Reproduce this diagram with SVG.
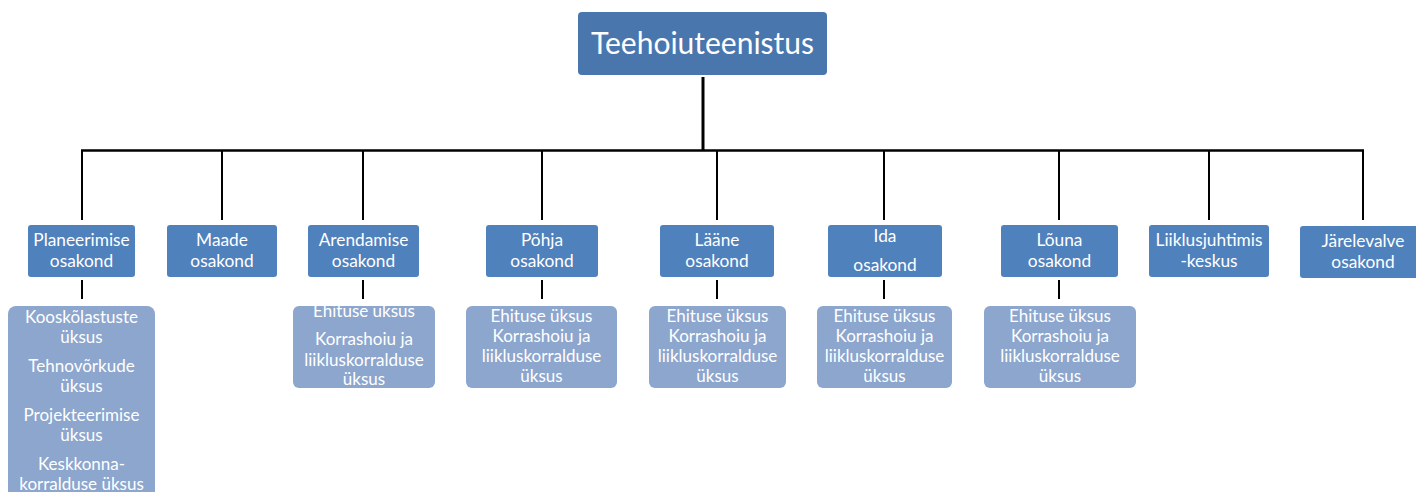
<svg xmlns="http://www.w3.org/2000/svg" width="1416" height="492" viewBox="0 0 1416 492">
<style>
.top{fill:#4A76AE}
.l2{fill:#4F81BD}
.sub{fill:#8CA6CE}
text{font-family:Lato,"Open Sans","Liberation Sans",sans-serif;fill:#fff;text-anchor:middle}
.t1{font-size:30px}
.t2{font-size:17.3px}
.t3{font-size:17px}
.conn line{stroke:#000;stroke-width:2}
</style>
<rect width="1416" height="492" fill="#fff"/>
<g class="conn">
<line x1="703" y1="77" x2="703" y2="151" style="stroke-width:3"/>
<line x1="81" y1="150.5" x2="1364" y2="150.5" style="stroke-width:2.5"/>
<line x1="82" y1="150" x2="82" y2="220"/>
<line x1="222" y1="150" x2="222" y2="220"/>
<line x1="363" y1="150" x2="363" y2="220"/>
<line x1="542" y1="150" x2="542" y2="220"/>
<line x1="717" y1="150" x2="717" y2="220"/>
<line x1="884" y1="150" x2="884" y2="220"/>
<line x1="1059" y1="150" x2="1059" y2="220"/>
<line x1="1209" y1="150" x2="1209" y2="220"/>
<line x1="1363" y1="150" x2="1363" y2="220"/>
<line x1="82" y1="280" x2="82" y2="299"/>
<line x1="363" y1="280" x2="363" y2="299"/>
<line x1="542" y1="280" x2="542" y2="299"/>
<line x1="717" y1="280" x2="717" y2="299"/>
<line x1="884" y1="280" x2="884" y2="299"/>
<line x1="1059" y1="280" x2="1059" y2="299"/>
</g>
<g id="teehoiuteenistus">
<rect class="top" x="578" y="12" width="249" height="63" rx="4"/>
<text class="t1" x="702.5" y="54">Teehoiuteenistus</text>
</g>
<g id="planeerimise">
<rect class="l2" x="28" y="225" width="107" height="52" rx="3"/>
<text class="t2" x="81.5" y="246">Planeerimise</text>
<text class="t2" x="81.5" y="267">osakond</text>
</g>
<g id="maade">
<rect class="l2" x="167" y="225" width="110" height="52" rx="3"/>
<text class="t2" x="222" y="246">Maade</text>
<text class="t2" x="222" y="267">osakond</text>
</g>
<g id="arendamise">
<rect class="l2" x="308" y="225" width="111" height="52" rx="3"/>
<text class="t2" x="363.5" y="246">Arendamise</text>
<text class="t2" x="363.5" y="267">osakond</text>
</g>
<g id="pohja">
<rect class="l2" x="486" y="225" width="112" height="52" rx="3"/>
<text class="t2" x="542" y="246">Põhja</text>
<text class="t2" x="542" y="267">osakond</text>
</g>
<g id="laane">
<rect class="l2" x="660" y="225" width="114" height="52" rx="3"/>
<text class="t2" x="717" y="246">Lääne</text>
<text class="t2" x="717" y="267">osakond</text>
</g>
<g id="ida">
<rect class="l2" x="828" y="225" width="114" height="52" rx="3"/>
<text class="t2" x="885" y="242">Ida</text>
<text class="t2" x="885" y="271">osakond</text>
</g>
<g id="louna">
<rect class="l2" x="1001" y="225" width="117" height="52" rx="3"/>
<text class="t2" x="1059.5" y="246">Lõuna</text>
<text class="t2" x="1059.5" y="267">osakond</text>
</g>
<g id="liiklusjuhtimiskeskus">
<rect class="l2" x="1149" y="225" width="120" height="52" rx="3"/>
<text class="t2" x="1209" y="246">Liiklusjuhtimis</text>
<text class="t2" x="1209" y="267">-keskus</text>
</g>
<g id="jarelevalve">
<rect class="l2" x="1300" y="226" width="120" height="52" rx="3"/>
<text class="t2" x="1363" y="247">Järelevalve</text>
<text class="t2" x="1363" y="268">osakond</text>
</g>
<g id="planeerimise-uksused">
<rect class="sub" x="8" y="306" width="147" height="200" rx="8"/>
<text class="t3" x="81.5" y="323">Kooskõlastuste</text>
<text class="t3" x="81.5" y="343">üksus</text>
<text class="t3" x="81.5" y="372">Tehnovõrkude</text>
<text class="t3" x="81.5" y="392">üksus</text>
<text class="t3" x="81.5" y="421">Projekteerimise</text>
<text class="t3" x="81.5" y="441">üksus</text>
<text class="t3" x="81.5" y="470">Keskkonna-</text>
<text class="t3" x="81.5" y="490">korralduse üksus</text>
</g>
<g id="arendamise-uksused">
<rect class="sub" x="293" y="306" width="142" height="82" rx="6"/>
<text class="t3" x="364" y="317">Ehituse üksus</text>
<text class="t3" x="364" y="345">Korrashoiu ja</text>
<text class="t3" x="364" y="366">liikluskorralduse</text>
<text class="t3" x="364" y="385">üksus</text>
</g>
<g id="pohja-uksused">
<rect class="sub" x="466" y="306" width="151" height="82" rx="6"/>
<text class="t3" x="541.5" y="322">Ehituse üksus</text>
<text class="t3" x="541.5" y="342">Korrashoiu ja</text>
<text class="t3" x="541.5" y="362">liikluskorralduse</text>
<text class="t3" x="541.5" y="382">üksus</text>
</g>
<g id="laane-uksused">
<rect class="sub" x="649" y="306" width="137" height="82" rx="6"/>
<text class="t3" x="717.5" y="322">Ehituse üksus</text>
<text class="t3" x="717.5" y="342">Korrashoiu ja</text>
<text class="t3" x="717.5" y="362">liikluskorralduse</text>
<text class="t3" x="717.5" y="382">üksus</text>
</g>
<g id="ida-uksused">
<rect class="sub" x="817" y="306" width="135" height="82" rx="6"/>
<text class="t3" x="884.5" y="322">Ehituse üksus</text>
<text class="t3" x="884.5" y="342">Korrashoiu ja</text>
<text class="t3" x="884.5" y="362">liikluskorralduse</text>
<text class="t3" x="884.5" y="382">üksus</text>
</g>
<g id="louna-uksused">
<rect class="sub" x="984" y="306" width="152" height="82" rx="6"/>
<text class="t3" x="1060" y="322">Ehituse üksus</text>
<text class="t3" x="1060" y="342">Korrashoiu ja</text>
<text class="t3" x="1060" y="362">liikluskorralduse</text>
<text class="t3" x="1060" y="382">üksus</text>
</g>
</svg>
